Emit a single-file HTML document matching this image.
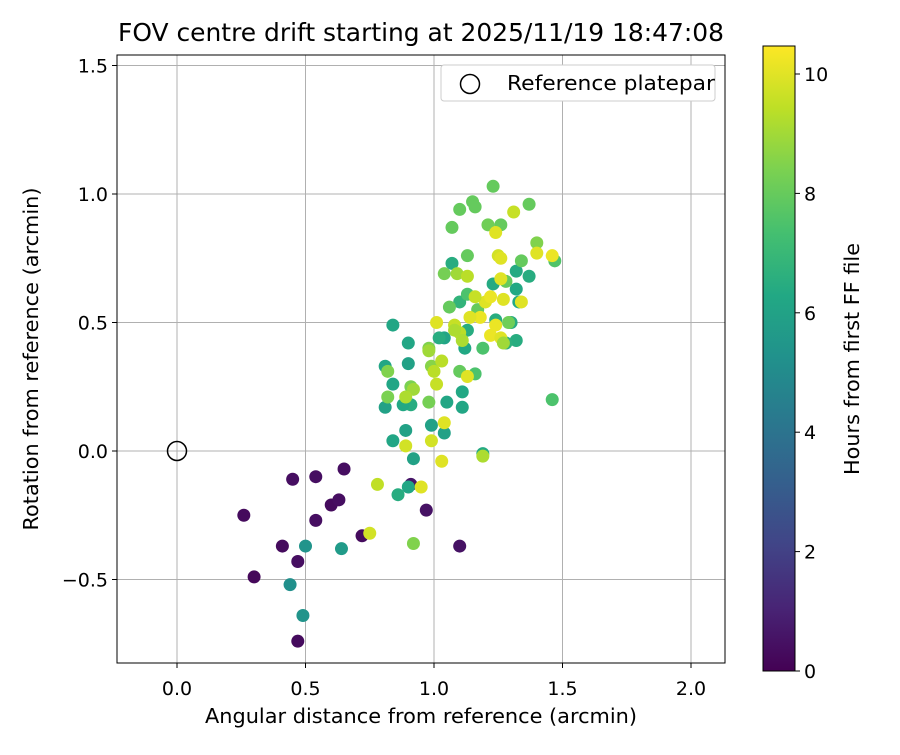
<!DOCTYPE html>
<html><head><meta charset="utf-8"><style>
body{margin:0;background:#fff}
svg{font-family:"DejaVu Sans","Liberation Sans",sans-serif}
</style></head><body>
<svg id="c" width="900" height="750" xmlns="http://www.w3.org/2000/svg">
<defs>
<linearGradient id="vir" x1="0" y1="1" x2="0" y2="0">
<stop offset="0" stop-color="#440154"/><stop offset="0.1" stop-color="#482475"/><stop offset="0.2" stop-color="#414487"/><stop offset="0.3" stop-color="#355f8d"/><stop offset="0.4" stop-color="#2a788e"/><stop offset="0.5" stop-color="#21918c"/><stop offset="0.6" stop-color="#22a884"/><stop offset="0.7" stop-color="#44bf70"/><stop offset="0.8" stop-color="#7ad151"/><stop offset="0.9" stop-color="#bddf26"/><stop offset="1" stop-color="#fde725"/>
</linearGradient>
</defs>
<text x="421" y="41" font-size="25" text-anchor="middle" textLength="606" lengthAdjust="spacingAndGlyphs">FOV centre drift starting at 2025/11/19 18:47:08</text>
<g id="grid"></g>
<g id="pts"></g>
<rect x="117" y="55" width="608" height="608" fill="none" stroke="#000" stroke-width="1"/>
<g id="ticks"></g>
<text x="421" y="723" font-size="20" text-anchor="middle" textLength="432" lengthAdjust="spacingAndGlyphs">Angular distance from reference (arcmin)</text>
<text transform="translate(38,359) rotate(-90)" font-size="20" text-anchor="middle" textLength="343" lengthAdjust="spacingAndGlyphs">Rotation from reference (arcmin)</text>
<g>
<rect x="441" y="65" width="274" height="36" rx="3" fill="#fff" stroke="#ccc"/>
<circle cx="470" cy="84" r="9.5" fill="none" stroke="#000" stroke-width="1.5"/>
<text x="507" y="90" font-size="20" textLength="208" lengthAdjust="spacingAndGlyphs">Reference platepar</text>
</g>
<rect x="763" y="46" width="32" height="625" fill="url(#vir)" stroke="#000" stroke-width="1"/>
<g id="cb"></g>
<text transform="translate(859,359) rotate(-90)" font-size="20" text-anchor="middle" textLength="232" lengthAdjust="spacingAndGlyphs">Hours from first FF file</text>
</svg>
<script>
const xs=[0.26,0.30,0.41,0.45,0.47,0.47,0.54,0.54,0.60,0.63,0.65,0.72,0.97,1.10,0.91,
0.44,0.49,0.50,0.64,0.86,0.90,0.81,0.81,0.84,0.84,0.84,0.89,0.90,0.90,0.92,0.99,1.04,1.04,1.05,1.07,1.11,1.11,1.12,1.19,1.23,1.24,1.30,1.32,1.32,1.32,1.33,1.37,1.13,1.10,1.02,0.91,0.88,1.28,
1.46,1.47,1.37,1.40,1.23,1.15,1.16,1.10,1.07,1.21,1.26,1.13,1.04,1.17,1.06,1.10,1.16,1.19,1.13,1.28,1.34,0.92,0.98,0.91,0.98,0.82,0.82,0.99,1.29,
0.78,0.75,0.95,1.03,1.04,0.99,0.89,1.19,1.31,1.40,1.46,1.24,1.25,1.26,1.26,1.18,1.20,1.22,1.27,1.34,1.14,1.22,1.24,1.26,1.01,1.08,1.10,1.13,1.01,1.00,1.03,0.92,0.89,1.09,1.13,1.16,1.08,0.98,1.11,1.27];
const ys=[-0.25,-0.49,-0.37,-0.11,-0.43,-0.74,-0.10,-0.27,-0.21,-0.19,-0.07,-0.33,-0.23,-0.37,-0.13,
-0.52,-0.64,-0.37,-0.38,-0.17,-0.14,0.33,0.17,0.04,0.26,0.49,0.08,0.42,0.34,-0.03,0.10,0.07,0.44,0.19,0.73,0.23,0.17,0.40,-0.01,0.65,0.51,0.50,0.70,0.63,0.43,0.58,0.68,0.47,0.58,0.44,0.18,0.18,0.42,
0.20,0.74,0.96,0.81,1.03,0.97,0.95,0.94,0.87,0.88,0.88,0.76,0.69,0.55,0.56,0.31,0.30,0.40,0.61,0.66,0.74,-0.36,0.19,0.25,0.40,0.21,0.31,0.33,0.50,
-0.13,-0.32,-0.14,-0.04,0.11,0.04,0.02,-0.02,0.93,0.77,0.76,0.85,0.76,0.75,0.67,0.52,0.58,0.60,0.59,0.58,0.52,0.45,0.49,0.44,0.50,0.49,0.46,0.29,0.26,0.31,0.35,0.24,0.21,0.69,0.68,0.60,0.47,0.39,0.43,0.42];
const hours=[0.3,0.2,0.3,0.4,0.4,0.3,0.4,0.4,0.3,0.4,0.4,0.3,0.5,0.5,0.6,
5.2,5.4,5.4,5.7,6.5,6.2,6.2,6.0,6.2,6.2,6.2,6.0,6.2,6.0,6.0,6.0,6.0,6.1,6.2,6.5,6.3,6.2,6.3,6.4,6.4,6.5,6.5,6.4,6.3,6.5,6.3,6.5,6.5,6.8,6.5,6.5,6.3,6.6,
7.5,7.6,8.0,8.5,8.0,8.0,8.0,8.0,8.0,8.2,8.0,8.0,8.3,8.0,8.0,8.0,7.5,7.5,7.5,8.0,8.0,8.5,8.3,8.4,8.5,8.4,8.5,8.6,8.2,
9.5,9.8,10.0,10.0,10.0,9.8,9.8,9.2,9.6,10.0,10.2,10.0,9.8,10.0,10.0,10.2,10.0,10.2,10.0,10.0,10.0,10.2,10.2,10.0,10.0,9.6,9.4,10.0,9.6,9.4,9.4,9.0,9.2,9.0,9.4,9.6,9.2,9.0,9.2,9.0];
const xTicks=[0.0,0.5,1.0,1.5,2.0];
const yTicks=[-0.5,0.0,0.5,1.0,1.5];
const cbTicks=[0,2,4,6,8,10];
const X=v=>177+v*257, Y=v=>451-v*257, CB=v=>671-v*59.7;
const NS="http://www.w3.org/2000/svg";
function mk(t,a,p){const e=document.createElementNS(NS,t);for(const k in a)e.setAttribute(k,a[k]);p.appendChild(e);return e;}
const stops=[[68,1,84],[72,36,117],[65,68,135],[53,95,141],[42,120,142],[33,145,140],[34,168,132],[68,191,112],[122,209,81],[189,223,38],[253,231,37]];
function vir(t){t=Math.max(0,Math.min(1,t))*10;const i=Math.min(9,Math.floor(t)),f=t-i,a=stops[i],b=stops[i+1];return `rgb(${a.map((v,k)=>Math.round(v+(b[k]-v)*f)).join(',')})`;}
const g=document.getElementById('grid'),tk=document.getElementById('ticks'),pts=document.getElementById('pts'),cb=document.getElementById('cb');
xTicks.forEach(v=>{
const l=mk('line',{x1:X(v),x2:X(v),y1:55,y2:663,stroke:'#b0b0b0','stroke-width':1},g);

mk('line',{x1:X(v),x2:X(v),y1:663,y2:668,stroke:'#000'},tk);
const t=mk('text',{x:X(v),y:695,'font-size':19,'text-anchor':'middle'},tk);t.textContent=v.toFixed(1);
});
yTicks.forEach(v=>{
const l=mk('line',{x1:117,x2:725,y1:Y(v),y2:Y(v),stroke:'#b0b0b0','stroke-width':1},g);

mk('line',{x1:112,x2:117,y1:Y(v),y2:Y(v),stroke:'#000'},tk);
const t=mk('text',{x:108,y:Y(v)+7,'font-size':19,'text-anchor':'end'},tk);t.textContent=(v<0?'\u2212':'')+Math.abs(v).toFixed(1);
});
const ref=mk('circle',{cx:X(0),cy:Y(0),r:9.5,fill:'none',stroke:'#000','stroke-width':1.5},pts);

xs.forEach((x,i)=>{const c=mk('circle',{cx:X(x),cy:Y(ys[i]),r:6.5,fill:vir(hours[i]/10.5)},pts);
});
cbTicks.forEach(v=>{mk('line',{x1:795,x2:800,y1:CB(v),y2:CB(v),stroke:'#000'},cb);
const t=mk('text',{x:804,y:CB(v)+7,'font-size':19},cb);t.textContent=v;
});
</script>
</body></html>
